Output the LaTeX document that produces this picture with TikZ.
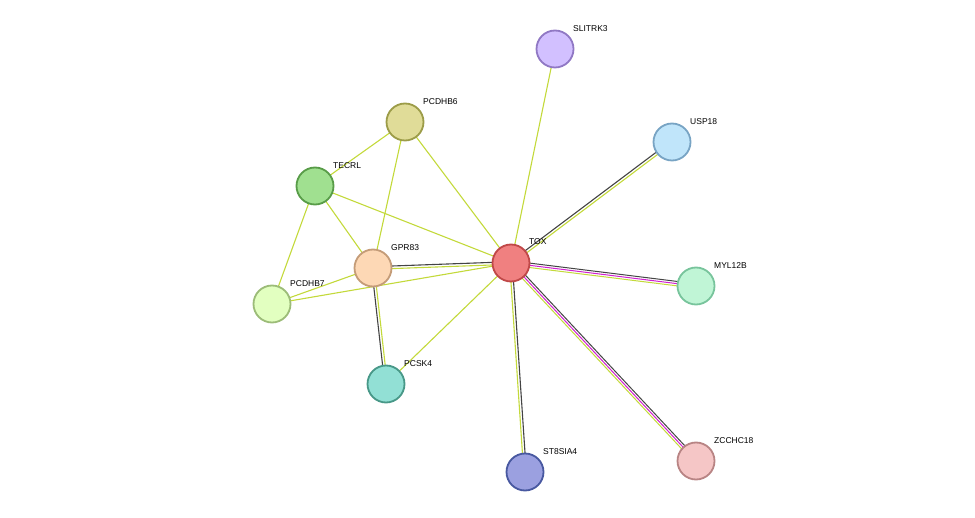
\documentclass[tikz,border=0pt]{standalone}
\usepackage{fontspec}
\setmainfont{Liberation Sans}
\usetikzlibrary{calc}
\definecolor{lgreen}{HTML}{C3D93A}
\definecolor{dgrey}{HTML}{444444}
\definecolor{mag}{HTML}{D020D0}
\tikzset{
  prot/.style={circle, draw, line width=1.8pt, minimum size=37pt, inner sep=0pt},
  lbl/.style={font=\fontsize{8.5}{9}\selectfont, anchor=south west, inner sep=1pt},
  edge/.style={line width=1.1pt, lgreen}
}
% two or three parallel lines between a and b
\newcommand{\pairedge}[4]{%
  \draw[line width=1.1pt, #3] ($(#1)!1.3pt!90:(#2)$) -- ($(#2)!1.3pt!-90:(#1)$);
  \draw[line width=1.1pt, #4] ($(#1)!1.3pt!-90:(#2)$) -- ($(#2)!1.3pt!90:(#1)$);}
\newcommand{\tripleedge}[2]{%
  \draw[line width=1pt, dgrey] ($(#1)!2.2pt!90:(#2)$) -- ($(#2)!2.2pt!-90:(#1)$);
  \draw[line width=1pt, mag] (#1) -- (#2);
  \draw[line width=1pt, lgreen] ($(#1)!2.2pt!-90:(#2)$) -- ($(#2)!2.2pt!90:(#1)$);}
\begin{document}
\begin{tikzpicture}[x=1pt, y=-1pt]
\useasboundingbox (0,0) rectangle (975,518);
\coordinate (tox) at (511,263);
\coordinate (slitrk3) at (555,49);
\coordinate (usp18) at (672,142);
\coordinate (myl12b) at (696,286);
\coordinate (zcchc18) at (696,461);
\coordinate (st8sia4) at (525,472);
\coordinate (pcsk4) at (386,384);
\coordinate (gpr83) at (373,268);
\coordinate (pcdhb7) at (272,304);
\coordinate (tecrl) at (315,186);
\coordinate (pcdhb6) at (405,122);

% edges
\draw[edge] (tox) -- (slitrk3);
\draw[edge] (tox) -- (pcsk4);
\draw[edge] (tox) -- (pcdhb7);
\draw[edge] (tox) -- (tecrl);
\draw[edge] (tox) -- (pcdhb6);
\draw[edge] (gpr83) -- (pcdhb6);
\draw[edge] (gpr83) -- (tecrl);
\draw[edge] (gpr83) -- (pcdhb7);
\draw[edge] (tecrl) -- (pcdhb6);
\draw[edge] (tecrl) -- (pcdhb7);
\pairedge{tox}{usp18}{dgrey}{lgreen}
\pairedge{tox}{st8sia4}{dgrey}{lgreen}
\pairedge{tox}{gpr83}{lgreen}{dgrey}
\pairedge{gpr83}{pcsk4}{lgreen}{dgrey}
\tripleedge{tox}{myl12b}
\tripleedge{tox}{zcchc18}

% proteins
\node[prot, fill={rgb,255:red,240;green,128;blue,128}, draw={rgb,255:red,192;green,72;blue,72}] (toxn) at (tox) {};
\node[prot, fill={rgb,255:red,210;green,192;blue,255}, draw={rgb,255:red,144;green,120;blue,196}] (slitrk3n) at (slitrk3) {};
\node[prot, fill={rgb,255:red,192;green,229;blue,250}, draw={rgb,255:red,120;green,164;blue,196}] (usp18n) at (usp18) {};
\node[prot, fill={rgb,255:red,192;green,245;blue,214}, draw={rgb,255:red,120;green,196;blue,156}] (myl12bn) at (myl12b) {};
\node[prot, fill={rgb,255:red,245;green,198;blue,198}, draw={rgb,255:red,184;green,132;blue,132}] (zcchc18n) at (zcchc18) {};
\node[prot, fill={rgb,255:red,155;green,160;blue,224}, draw={rgb,255:red,72;green,88;blue,160}] (st8sia4n) at (st8sia4) {};
\node[prot, fill={rgb,255:red,146;green,224;blue,213}, draw={rgb,255:red,72;green,152;blue,136}] (pcsk4n) at (pcsk4) {};
\node[prot, fill={rgb,255:red,253;green,216;blue,181}, draw={rgb,255:red,196;green,156;blue,120}] (gpr83n) at (gpr83) {};
\node[prot, fill={rgb,255:red,226;green,255;blue,192}, draw={rgb,255:red,156;green,188;blue,120}] (pcdhb7n) at (pcdhb7) {};
\node[prot, fill={rgb,255:red,160;green,224;blue,144}, draw={rgb,255:red,88;green,156;blue,72}] (tecrln) at (tecrl) {};
\node[prot, fill={rgb,255:red,224;green,220;blue,152}, draw={rgb,255:red,156;green,156;blue,72}] (pcdhb6n) at (pcdhb6) {};

% labels
\node[lbl] at (528,246) {TOX};
\node[lbl] at (572,33) {SLITRK3};
\node[lbl] at (689,126) {USP18};
\node[lbl] at (713,270) {MYL12B};
\node[lbl] at (713,445) {ZCCHC18};
\node[lbl] at (542,456) {ST8SIA4};
\node[lbl] at (403,368) {PCSK4};
\node[lbl] at (390,252) {GPR83};
\node[lbl] at (289,288) {PCDHB7};
\node[lbl] at (332,170) {TECRL};
\node[lbl] at (422,106) {PCDHB6};
\end{tikzpicture}
\end{document}
